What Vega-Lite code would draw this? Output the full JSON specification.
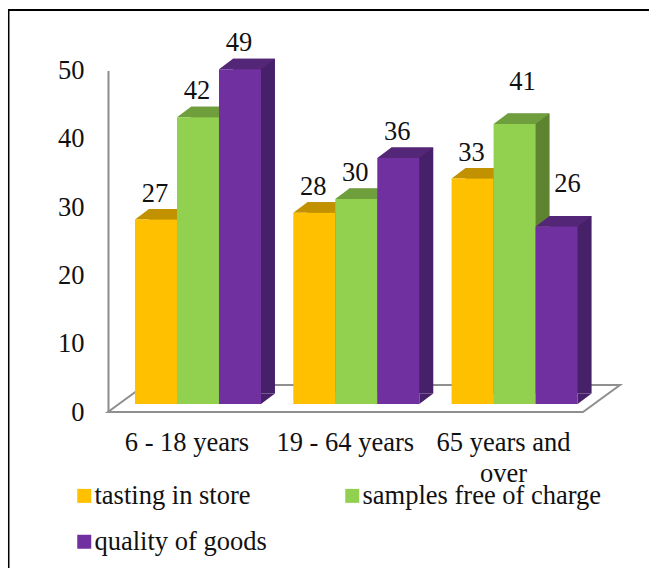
{
"$schema":"https://vega.github.io/schema/vega-lite/v6.json",
"width":475,"height":341.5,
"autosize":{"type":"none"},
"padding":{"left":108,"top":70.5,"right":66,"bottom":156},
"background":"white",
"config":{"view":{"stroke":null},"font":"Liberation Serif","text":{"font":"Liberation Serif"}},
"datasets":{"rows":[
{"category":"6 - 18 years","series":"tasting in store","value":27},
{"category":"6 - 18 years","series":"samples free of charge","value":42},
{"category":"6 - 18 years","series":"quality of goods","value":49},
{"category":"19 - 64 years","series":"tasting in store","value":28},
{"category":"19 - 64 years","series":"samples free of charge","value":30},
{"category":"19 - 64 years","series":"quality of goods","value":36},
{"category":"65 years and over","series":"tasting in store","value":33},
{"category":"65 years and over","series":"samples free of charge","value":41},
{"category":"65 years and over","series":"quality of goods","value":26}
],"anchor":[{"category":"6 - 18 years","value":0}]},
"data":{"name":"rows"},
"encoding":{
"x":{"field":"category","type":"nominal","sort":["6 - 18 years","19 - 64 years","65 years and over"],
"scale":{"paddingInner":0.204,"paddingOuter":0.1023,"align":0.833},
"axis":{"title":null,"domain":false,"ticks":false,"labelFont":"Liberation Serif","labelFontSize":26.5,"labelColor":"#111111","labelAngle":0,"labelOffset":-11,"labelPadding":38,"labelLimit":0,"labelOverlap":false,"labelFlush":false,"labelLineHeight":31,"labelBaseline":"alphabetic","labelExpr":"datum.value=='65 years and over'?['65 years and','over']:datum.label"}},
"y":{"field":"value","type":"quantitative","scale":{"domain":[0,50]},
"axis":{"title":null,"grid":false,"ticks":false,"tickCount":6,"domainColor":"#8c8c8c","domainWidth":2,"labelFont":"Liberation Serif","labelFontSize":26.5,"labelColor":"#111111","labelPadding":24}}
},
"layer":[
{"data":{"name":"anchor"},
 "mark":{"type":"point","filled":true,"size":4,"opacity":1,"color":"#000000","shape":"M-190,156L-190,-403L451,-403L451,-401L-188.5,-401L-188.5,156Z"},
 "encoding":{"y":{"datum":0}}},
{"data":{"name":"anchor"},
 "mark":{"type":"point","filled":false,"size":4,"opacity":1,"color":"#8f8f8f","strokeWidth":2,"shape":"M-90,0L385,0L422,-27L-53,-27Z"},
 "encoding":{"y":{"datum":0}}},
{"mark":{"type":"bar","yOffset":-18.5},
 "encoding":{"xOffset":{"field":"series","sort":null,"scale":{"domain":["tasting in store","samples free of charge","quality of goods"],"range":[14,140]}},
 "color":{"field":"series","legend":null,"scale":{"domain":["tasting in store","samples free of charge","quality of goods"],"range":["#a37c00","#5f8431","#47206a"]}}}},
{"mark":{"type":"point","filled":true,"opacity":1,"size":4,"shape":"M21,-8L21,-18.5L35,-18.5Z"},
 "encoding":{"y":{"datum":0},"xOffset":{"field":"series","sort":null,"scale":{"domain":["tasting in store","samples free of charge","quality of goods"]}},
 "color":{"field":"series","legend":null,"scale":{"domain":["tasting in store","samples free of charge","quality of goods"],"range":["#a37c00","#5f8431","#47206a"]}}}},
{"mark":{"type":"point","filled":true,"opacity":1,"size":4,"shape":"M-21,-8L21,-8L35,-18.5L-7,-18.5Z"},
 "encoding":{"xOffset":{"field":"series","sort":null,"scale":{"domain":["tasting in store","samples free of charge","quality of goods"]}},
 "color":{"field":"series","legend":null,"scale":{"domain":["tasting in store","samples free of charge","quality of goods"],"range":["#c29100","#6f9e3c","#542678"]}}}},
{"mark":{"type":"bar","yOffset":-8},
 "encoding":{"xOffset":{"field":"series","sort":null,"scale":{"domain":["tasting in store","samples free of charge","quality of goods"]}},
 "color":{"field":"series","title":null,"sort":null,"scale":{"domain":["tasting in store","samples free of charge","quality of goods"],"range":["#ffc000","#92d050","#7030a0"]},
 "legend":{"orient":"none","legendX":-37,"legendY":412,"direction":"horizontal","columns":2,"symbolType":"square","symbolSize":196,"symbolStrokeWidth":0,"symbolOpacity":1,"labelFont":"Liberation Serif","labelFontSize":26.5,"labelColor":"#111111","labelOffset":-3,"labelLimit":0,"columnPadding":72,"rowPadding":19,"title":null}}}},
{"transform":[{"filter":"datum.value!=41&&datum.value!=26"}],
 "mark":{"type":"text","font":"Liberation Serif","fontSize":26.5,"color":"#111111","baseline":"alphabetic","dx":-1,"dy":-26},
 "encoding":{"xOffset":{"field":"series","sort":null,"scale":{"domain":["tasting in store","samples free of charge","quality of goods"]}},"text":{"field":"value","type":"quantitative"}}},
{"transform":[{"filter":"datum.value==41"}],
 "mark":{"type":"text","font":"Liberation Serif","fontSize":26.5,"color":"#111111","baseline":"alphabetic","dx":8,"dy":-42},
 "encoding":{"xOffset":{"field":"series","sort":null,"scale":{"domain":["tasting in store","samples free of charge","quality of goods"]}},"text":{"field":"value","type":"quantitative"}}},
{"transform":[{"filter":"datum.value==26"}],
 "mark":{"type":"text","font":"Liberation Serif","fontSize":26.5,"color":"#111111","baseline":"alphabetic","dx":11,"dy":-42},
 "encoding":{"xOffset":{"field":"series","sort":null,"scale":{"domain":["tasting in store","samples free of charge","quality of goods"]}},"text":{"field":"value","type":"quantitative"}}}
],
"resolve":{"scale":{"color":"independent","xOffset":"independent"}}
}
